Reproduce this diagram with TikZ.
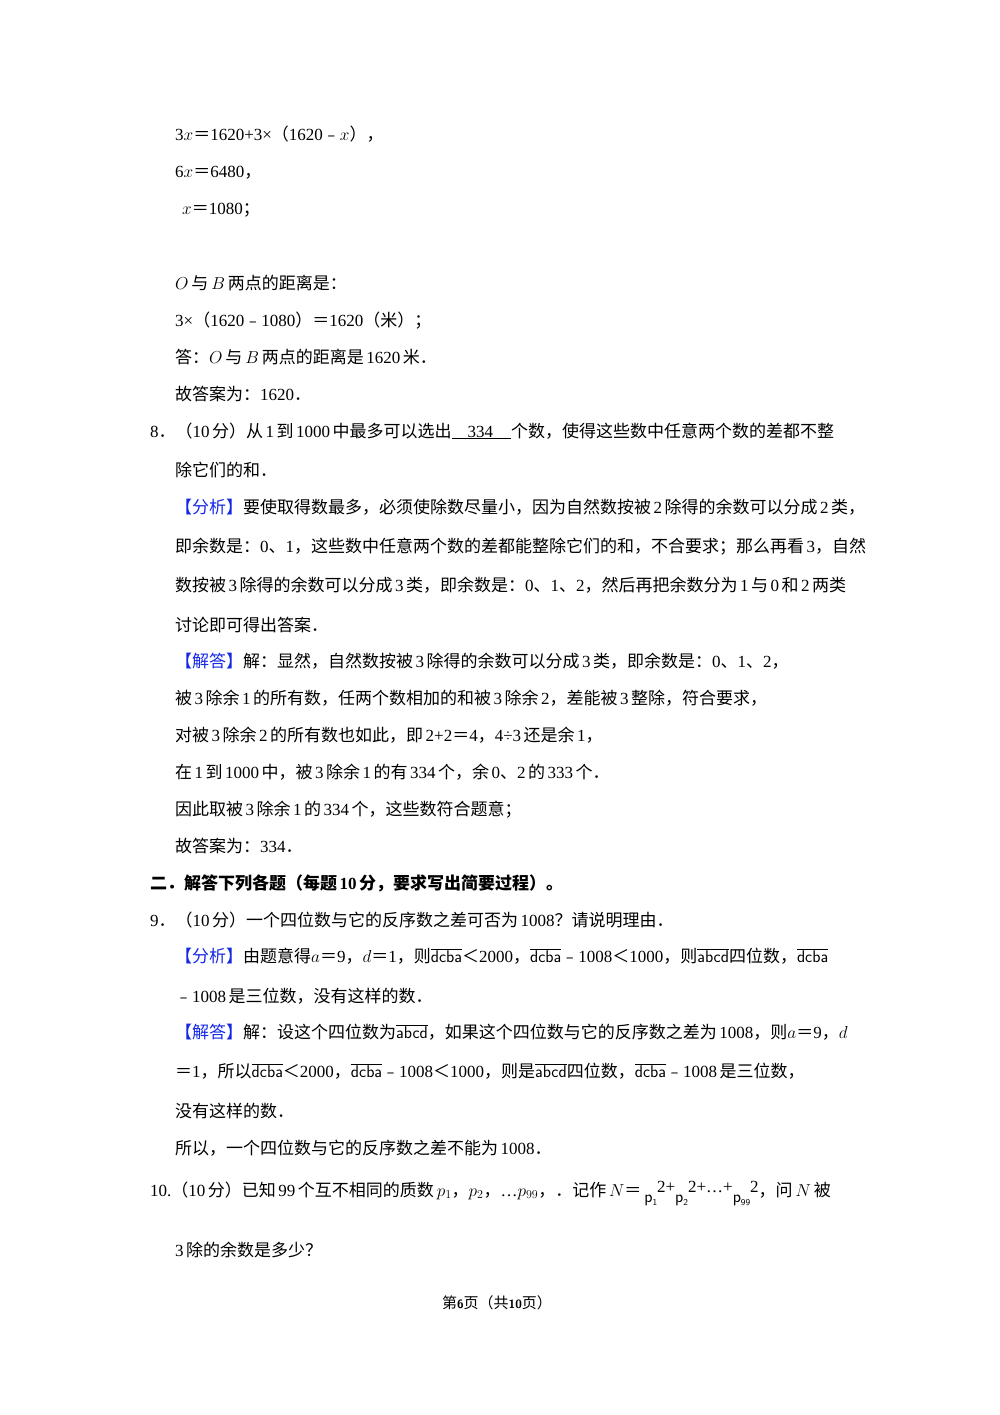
\documentclass[tikz,border=0pt]{standalone}
\usepackage{fontspec}
\setmainfont{Liberation Serif}
\newfontfamily\cj{Noto Sans CJK SC}
\makeatletter
\newXeTeXintercharclass\cjkclass
\newXeTeXintercharclass\cjpclass
\count@="3000 \loop\ifnum\count@<"3040 \XeTeXcharclass\count@=\cjpclass \advance\count@ 1 \repeat
\count@="4E00 \loop\ifnum\count@<"A000 \XeTeXcharclass\count@=\cjkclass \advance\count@ 1 \repeat
\count@="FE30 \loop\ifnum\count@<"FE70 \XeTeXcharclass\count@=\cjpclass \advance\count@ 1 \repeat
\count@="FF00 \loop\ifnum\count@<"FFF0 \XeTeXcharclass\count@=\cjpclass \advance\count@ 1 \repeat
\makeatother
\XeTeXinterchartokenstate=1
\XeTeXinterchartoks 0 \cjkclass = {\kern2.5pt\begingroup\cj}
\XeTeXinterchartoks 4095 \cjkclass = {\begingroup\cj}
\XeTeXinterchartoks \cjkclass 0 = {\endgroup\kern2.5pt}
\XeTeXinterchartoks \cjkclass 4095 = {\endgroup}
\XeTeXinterchartoks 0 \cjpclass = {\begingroup\cj}
\XeTeXinterchartoks 4095 \cjpclass = {\begingroup\cj}
\XeTeXinterchartoks \cjpclass 0 = {\endgroup}
\XeTeXinterchartoks \cjpclass 4095 = {\endgroup}
\definecolor{tagblue}{RGB}{20,40,230}
\newcommand{\ol}[1]{$\overline{\hbox{\sffamily #1}}$}
\newcommand{\tagb}[1]{\textcolor{tagblue}{#1}}
\begin{document}
\begin{tikzpicture}[x=1pt,y=-1pt,
  ln/.style={anchor=base west,inner sep=0pt,font=\fontsize{17}{20}\selectfont}]
\useasboundingbox (0,0) rectangle (1000,1415);
\fill[white] (0,0) rectangle (1000,1415);
\node[ln] (l1) at (175,141) {3$x$＝1620+3×（1620﹣$x$），};
\node[ln] (l2) at (175,178) {6$x$＝6480，};
\node[ln] (l3) at (182,215) {$x$＝1080；};
\node[ln] (l4) at (175,289) {$O$\,与\,$B$\,两点的距离是：};
\node[ln] (l5) at (175,326) {3×（1620﹣1080）＝1620（米）；};
\node[ln] (l6) at (175,363) {答：$O$\,与\,$B$\,两点的距离是1620米．};
\node[ln] (l7) at (175,400) {故答案为：1620．};
\node[ln] (l8) at (150,437) {8．（10分）从1到1000中最多可以选出\underline{\hspace{16pt}334\hspace{18pt}}个数，使得这些数中任意两个数的差都不整};
\node[ln] (l9) at (175,476) {除它们的和．};
\node[ln] (l10) at (175,513) {\tagb{【分析】}要使取得数最多，必须使除数尽量小，因为自然数按被2除得的余数可以分成2类，};
\node[ln] (l11) at (175,552) {即余数是：0、1，这些数中任意两个数的差都能整除它们的和，不合要求；那么再看3，自然};
\node[ln] (l12) at (175,591) {数按被3除得的余数可以分成3类，即余数是：0、1、2，然后再把余数分为1与0和2两类};
\node[ln] (l13) at (175,631) {讨论即可得出答案．};
\node[ln] (l14) at (175,667) {\tagb{【解答】}解：显然，自然数按被3除得的余数可以分成3类，即余数是：0、1、2，};
\node[ln] (l15) at (175,704) {被3除余1的所有数，任两个数相加的和被3除余2，差能被3整除，符合要求，};
\node[ln] (l16) at (175,741) {对被3除余2的所有数也如此，即2+2＝4，4÷3还是余1，};
\node[ln] (l17) at (175,778) {在1到1000中，被3除余1的有334个，余0、2的333个．};
\node[ln] (l18) at (175,815) {因此取被3除余1的334个，这些数符合题意；};
\node[ln] (l19) at (175,852) {故答案为：334．};
\node[ln,font=\fontsize{17}{20}\selectfont\bfseries] (l20) at (150,889) {二．解答下列各题（每题10分，要求写出简要过程）。};
\node[ln] (l21) at (150,926) {9．（10分）一个四位数与它的反序数之差可否为1008？请说明理由．};
\node[ln] (l22) at (175,962) {\tagb{【分析】}由题意得$a$＝9，$d$＝1，则\ol{dcba}＜2000，\ol{dcba}﹣1008＜1000，则\ol{abcd}四位数，\ol{dcba}};
\node[ln] (l23) at (175,1002) {﹣1008是三位数，没有这样的数．};
\node[ln] (l24) at (175,1038) {\tagb{【解答】}解：设这个四位数为\ol{abcd}，如果这个四位数与它的反序数之差为1008，则$a$＝9，$d$};
\node[ln] (l25) at (175,1077) {＝1，所以\ol{dcba}＜2000，\ol{dcba}﹣1008＜1000，则是\ol{abcd}四位数，\ol{dcba}﹣1008是三位数，};
\node[ln] (l26) at (175,1117) {没有这样的数．};
\node[ln] (l27) at (175,1154) {所以，一个四位数与它的反序数之差不能为1008．};
\node[ln] (l28) at (150,1196) {10.（10分）已知99个互不相同的质数\,$p_1$，$p_2$，…$p_{99}$，．记作\,$N$＝\,\raisebox{-6pt}{\sffamily p\raisebox{-3pt}{\small 1}}\raisebox{4pt}{2+}\raisebox{-6pt}{\sffamily p\raisebox{-3pt}{\small 2}}\raisebox{4pt}{2+…+}\raisebox{-6pt}{\sffamily p\raisebox{-3pt}{\small 99}}\raisebox{4pt}{2}，问\,$N$\,被};
\node[ln] (l29) at (175,1256) {3除的余数是多少？};
\node[anchor=base,inner sep=0pt,font=\fontsize{15}{18}\selectfont] (ft) at (497,1308) {第\textsf{\bfseries\large 6}页（共\textsf{\bfseries\large 10}页）};
\end{tikzpicture}
\end{document}
